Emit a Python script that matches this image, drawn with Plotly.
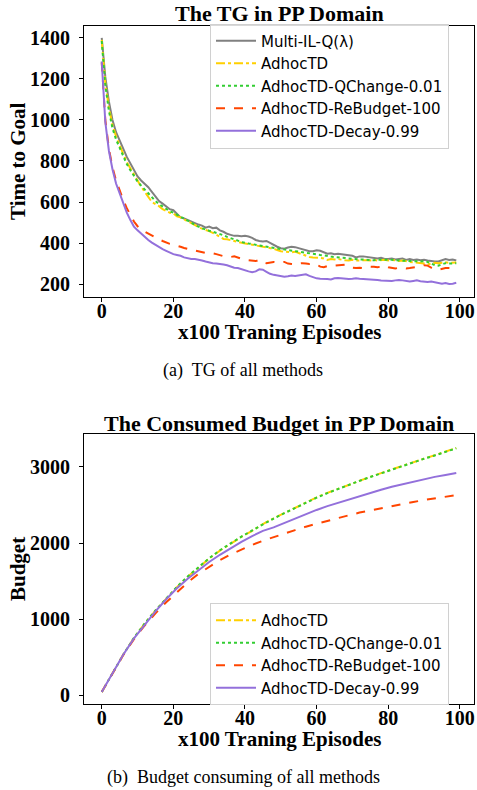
import plotly.graph_objects as go

W, H = 477, 790

episodes_tg = list(range(100))

tg_multi_il = [1400, 1210, 1090, 1000, 940, 895, 860, 820, 790, 755,
               725, 705, 690, 672, 650, 625, 605, 592, 580, 565,
               560, 540, 525, 520, 512, 505, 500, 490, 485, 475,
               480, 472, 475, 462, 455, 445, 440, 435, 435, 433,
               435, 432, 425, 415, 410, 408, 410, 400, 392, 382,
               375, 372, 378, 382, 380, 375, 372, 365, 360, 360,
               365, 362, 355, 348, 350, 345, 348, 345, 342, 340,
               338, 330, 335, 335, 332, 330, 328, 325, 328, 322,
               322, 325, 320, 322, 325, 318, 322, 318, 320, 316,
               318, 315, 312, 310, 310, 318, 322, 318, 320, 315]

tg_adhoctd = [1390, 1180, 1060, 975, 920, 875, 835, 795, 765, 730,
              705, 675, 650, 625, 600, 590, 580, 565, 555, 548,
              545, 530, 525, 515, 505, 495, 485, 478, 470, 465,
              458, 450, 440, 428, 420, 418, 415, 410, 405, 402,
              398, 395, 392, 388, 385, 382, 380, 376, 372, 366,
              360, 358, 356, 355, 358, 352, 345, 338, 332, 330,
              330, 328, 325, 318, 322, 320, 322, 318, 316, 315,
              318, 315, 316, 318, 316, 315, 318, 315, 316, 318,
              315, 318, 316, 312, 315, 310, 308, 306, 305, 302,
              300, 296, 300, 304, 302, 305, 306, 304, 305, 305]

tg_qchange = [1385, 1170, 1045, 960, 905, 865, 825, 785, 755, 725,
              700, 680, 660, 640, 620, 605, 590, 578, 565, 555,
              548, 538, 530, 520, 510, 500, 490, 480, 472, 465,
              460, 455, 450, 445, 438, 430, 425, 418, 412, 405,
              400, 398, 395, 390, 388, 385, 382, 378, 375, 372,
              370, 368, 365, 362, 360, 358, 355, 352, 348, 346,
              345, 342, 340, 336, 334, 332, 330, 330, 328, 326,
              322, 322, 320, 320, 318, 318, 316, 318, 318, 320,
              320, 318, 316, 315, 315, 314, 312, 314, 312, 310,
              312, 308, 300, 292, 290, 298, 302, 300, 302, 302]

tg_rebudget = [1280, 1000, 860, 770, 705, 655, 610, 570, 535, 505,
               482, 465, 455, 445, 435, 425, 418, 410, 402, 396,
               392, 388, 382, 376, 372, 368, 362, 358, 355, 352,
               350, 350, 346, 340, 336, 334, 332, 335, 330, 322,
               318, 316, 315, 312, 318, 306, 302, 305, 308, 306,
               305, 308, 300, 298, 296, 300, 302, 300, 298, 300,
               296, 285, 282, 288, 292, 290, 292, 294, 295, 290,
               280, 278, 280, 278, 282, 285, 284, 282, 285, 290,
               282, 278, 276, 280, 278, 276, 278, 280, 282, 286,
               292, 290, 280, 272, 270, 275, 278, 278, 276, 276]

tg_decay = [1285, 990, 850, 760, 690, 640, 590, 548, 512, 480,
            462, 445, 428, 415, 402, 390, 380, 370, 362, 352,
            346, 342, 338, 330, 325, 322, 322, 320, 315, 310,
            305, 302, 300, 296, 295, 292, 285, 280, 278, 272,
            268, 262, 258, 262, 272, 270, 260, 250, 245, 242,
            240, 236, 238, 242, 240, 242, 245, 248, 240, 232,
            228, 226, 226, 225, 222, 228, 230, 228, 226, 225,
            226, 228, 226, 225, 226, 224, 222, 220, 218, 216,
            215, 215, 218, 220, 218, 216, 212, 215, 218, 214,
            212, 210, 212, 208, 204, 202, 205, 200, 202, 206]

episodes_budget = list(range(0, 100, 3))

budget_adhoctd = [40, 290, 530, 750, 940, 1110, 1270, 1420, 1555, 1680,
                  1795, 1900, 1995, 2080, 2160, 2250, 2325, 2395, 2465, 2535,
                  2600, 2660, 2715, 2770, 2820, 2870, 2920, 2970, 3020, 3065,
                  3110, 3155, 3200, 3250]

budget_qchange = [40, 290, 530, 752, 942, 1112, 1272, 1424, 1560, 1685,
                  1800, 1905, 1998, 2084, 2165, 2248, 2322, 2392, 2462, 2530,
                  2596, 2656, 2712, 2768, 2818, 2868, 2918, 2966, 3016, 3062,
                  3108, 3152, 3198, 3246]

budget_rebudget = [40, 290, 525, 735, 915, 1075, 1220, 1350, 1480, 1595,
                   1690, 1775, 1850, 1915, 1975, 2030, 2080, 2125, 2170, 2215,
                   2255, 2295, 2330, 2365, 2400, 2430, 2460, 2490, 2515, 2540,
                   2565, 2590, 2610, 2630]

budget_decay = [40, 290, 530, 745, 930, 1100, 1260, 1405, 1530, 1645,
                1750, 1845, 1935, 2015, 2090, 2160, 2205, 2265, 2325, 2380,
                2435, 2485, 2530, 2575, 2620, 2660, 2700, 2740, 2775, 2810,
                2840, 2870, 2895, 2920]

names = ["Multi-IL-Q(λ)", "AdhocTD", "AdhocTD-QChange-0.01",
         "AdhocTD-ReBudget-100", "AdhocTD-Decay-0.99"]
colors = ["#808080", "#FFD000", "#32CD32", "#FF4500", "#9370DB"]
dashes = ["solid", "dashdot", "dot", "dash", "solid"]

fig = go.Figure()

tg_series = [tg_multi_il, tg_adhoctd, tg_qchange, tg_rebudget, tg_decay]
for name, col, dsh, ys in zip(names, colors, dashes, tg_series):
    fig.add_trace(go.Scatter(x=episodes_tg, y=ys, mode="lines", name=name,
                             line=dict(color=col, dash=dsh, width=2),
                             xaxis="x", yaxis="y", legend="legend"))

b_series = [budget_adhoctd, budget_qchange, budget_rebudget, budget_decay]
for name, col, dsh, ys in zip(names[1:], colors[1:], dashes[1:], b_series):
    fig.add_trace(go.Scatter(x=episodes_budget, y=ys, mode="lines", name=name,
                             line=dict(color=col, dash=dsh, width=2),
                             xaxis="x2", yaxis="y2", legend="legend2"))

def py(p):
    return 1 - p / H

xdom = [84 / W, 474 / W]
serif = "Liberation Serif"
tickfont = dict(family=serif, size=20, color="black", weight="bold")
axis_common = dict(showline=True, linecolor="black", linewidth=1, mirror=True,
                   ticks="outside", ticklen=4, tickcolor="black",
                   showgrid=False, zeroline=False, tickfont=tickfont,
                   automargin=False)
xaxis_common = dict(axis_common, ticklabelstandoff=-8)
yaxis_common = dict(axis_common, ticklabelstandoff=5)

legend_font = dict(family="DejaVu Sans", size=15, color="black")

fig.update_layout(
    template="none",
    width=W, height=H,
    margin=dict(l=0, r=0, t=0, b=0, autoexpand=False),
    paper_bgcolor="white", plot_bgcolor="white",
    xaxis=dict(domain=xdom, anchor="y", range=[-4.95, 103.95],
               tickvals=[0, 20, 40, 60, 80, 100], **xaxis_common),
    yaxis=dict(domain=[py(297), py(26)], anchor="x", range=[137, 1458],
               tickvals=[200, 400, 600, 800, 1000, 1200, 1400], **yaxis_common),
    xaxis2=dict(domain=xdom, anchor="y2", range=[-4.95, 103.95],
                tickvals=[0, 20, 40, 60, 80, 100], **xaxis_common),
    yaxis2=dict(domain=[py(704), py(434)], anchor="x2", range=[-118, 3434],
                tickvals=[0, 1000, 2000, 3000], **yaxis_common),
    legend=dict(x=210 / W, y=py(86), xanchor="left", yanchor="middle",
                bgcolor="rgba(255,255,255,0.85)", bordercolor="#d0d0d0",
                borderwidth=1, font=legend_font, tracegroupgap=0, itemwidth=40),
    legend2=dict(x=210 / W, y=py(654), xanchor="left", yanchor="middle",
                 bgcolor="rgba(255,255,255,0.85)", bordercolor="#d0d0d0",
                 borderwidth=1, font=legend_font, tracegroupgap=0, itemwidth=40),
)

def ann(text, x, y, size, bold=True, angle=0, family=serif):
    fig.add_annotation(text=text, x=x / W, y=py(y), xref="paper", yref="paper",
                       xanchor="center", yanchor="middle", showarrow=False,
                       textangle=angle,
                       font=dict(family=family, size=size, color="black",
                                 weight="bold" if bold else "normal"))

ann("The TG in PP Domain", 279, 14, 22)
ann("The Consumed Budget in PP Domain", 279, 423, 22)
ann("x100 Traning Episodes", 279, 332, 21)
ann("x100 Traning Episodes", 279, 739, 21)
ann("Time to Goal", 18, 161, 21, angle=-90)
ann("Budget", 18, 569, 21, angle=-90)
ann("(a)  TG of all methods", 243, 370, 18, bold=False)
ann("(b)  Budget consuming of all methods", 243, 777, 18, bold=False)

fig.write_html(
    "out.html",
    config={"displayModeBar": False},
    post_script="document.body.style.margin='0px';document.body.style.overflow='hidden';",
)
